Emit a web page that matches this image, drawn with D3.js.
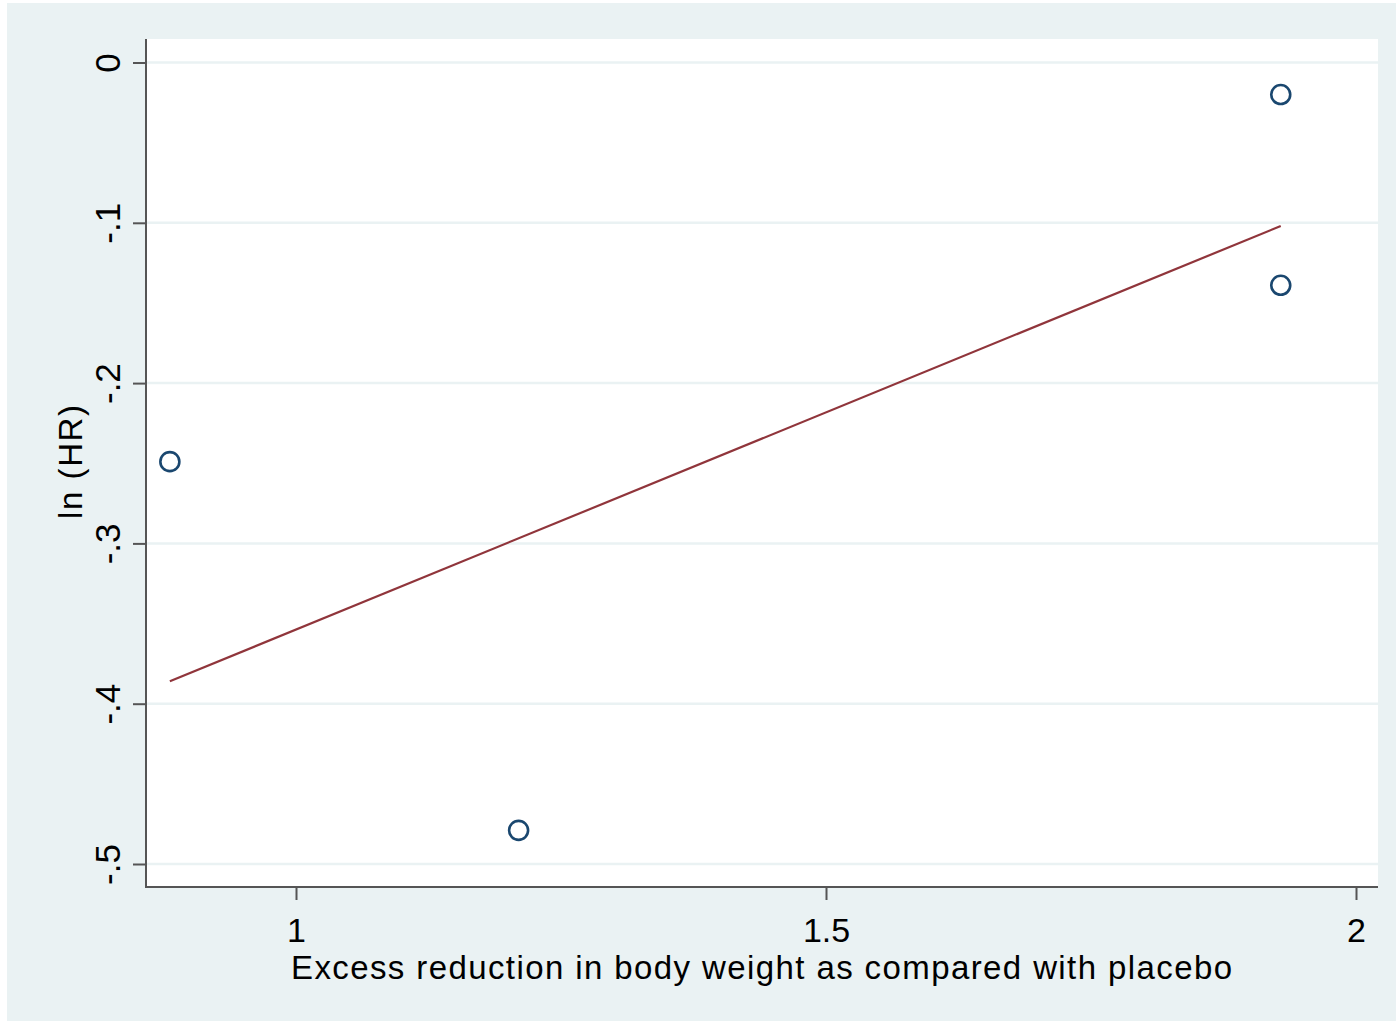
<!DOCTYPE html>
<html><head><meta charset="utf-8">
<script src="https://d3js.org/d3.v7.min.js"></script>
<style>html,body{margin:0;padding:0;background:#fff;}svg{display:block;}</style>
</head><body>
<script>
// Data
const studyX = [0.881, 1.210, 1.929, 1.929];
const studyY = [-0.249, -0.479, -0.020, -0.139];
const fitX = [0.881, 1.929];
const fitY = [-0.386, -0.102];
const yTicks = [0, -0.1, -0.2, -0.3, -0.4, -0.5];
const yTickLabels = ["0", "-.1", "-.2", "-.3", "-.4", "-.5"];
const xTicks = [1, 1.5, 2];
const xTickLabels = ["1", "1.5", "2"];

const W = 1396, H = 1023;
const svg = d3.select("body").append("svg").attr("width", W).attr("height", H);
const font = "Arial, 'Liberation Sans', sans-serif";

svg.append("rect").attr("x", 7).attr("y", 3).attr("width", W - 7).attr("height", 1018).attr("fill", "#eaf2f3");

const L = 147, R = 1378, T = 39, B = 887;
const x = d3.scaleLinear().domain([1, 2]).range([296, 1356]);
const y = d3.scaleLinear().domain([0, -0.5]).range([62.5, 864]);

svg.append("rect").attr("x", L).attr("y", T).attr("width", R - L).attr("height", B - T).attr("fill", "#fff");

// grid
svg.append("g").selectAll("line").data(yTicks).join("line")
  .attr("x1", L).attr("x2", R).attr("y1", d => y(d)).attr("y2", d => y(d))
  .attr("stroke", "#eaf2f3").attr("stroke-width", 2.5);

// Y axis
const yAxis = d3.axisLeft(y).tickValues(yTicks).tickSize(13)
  .tickFormat((d, i) => yTickLabels[i]);
const gy = svg.append("g").attr("transform", `translate(${L - 1},0)`).call(yAxis);
gy.select(".domain").attr("d", `M0,${T}V${B}`).attr("stroke", "#555").attr("stroke-width", 2);
gy.selectAll(".tick line").attr("stroke", "#555").attr("stroke-width", 2);
gy.selectAll(".tick text")
  .attr("transform", "rotate(-90)")
  .attr("x", 0).attr("y", -26).attr("dy", 0)
  .attr("text-anchor", "middle")
  .attr("font-family", font).attr("font-size", 35).attr("fill", "#000");

// X axis
const xAxis = d3.axisBottom(x).tickValues(xTicks).tickSize(13)
  .tickFormat((d, i) => xTickLabels[i]);
const gx = svg.append("g").attr("transform", `translate(0,${B})`).call(xAxis);
gx.select(".domain").attr("d", `M${L - 2},0H${R}`).attr("stroke", "#555").attr("stroke-width", 2);
gx.selectAll(".tick line").attr("stroke", "#555").attr("stroke-width", 2);
gx.selectAll(".tick text")
  .attr("y", 55).attr("dy", 0)
  .attr("font-family", font).attr("font-size", 34).attr("fill", "#000");

// axis titles
svg.append("text").attr("x", 761.5).attr("y", 979).attr("text-anchor", "middle")
  .attr("font-family", font).attr("font-size", 33).attr("fill", "#000")
  .attr("textLength", 941).attr("lengthAdjust", "spacing")
  .text("Excess reduction in body weight as compared with placebo");
svg.append("text").attr("transform", "translate(82,462) rotate(-90)").attr("text-anchor", "middle")
  .attr("font-family", font).attr("font-size", 33).attr("fill", "#000")
  .attr("textLength", 114).attr("lengthAdjust", "spacing")
  .text("ln (HR)");

// fit line
svg.append("line")
  .attr("x1", x(fitX[0])).attr("y1", y(fitY[0]))
  .attr("x2", x(fitX[1])).attr("y2", y(fitY[1]))
  .attr("stroke", "#90353b").attr("stroke-width", 2.2);

// points
svg.append("g").selectAll("circle").data(studyX.map((d, i) => [d, studyY[i]])).join("circle")
  .attr("cx", d => x(d[0])).attr("cy", d => y(d[1])).attr("r", 9.5)
  .attr("fill", "none").attr("stroke", "#1a476f").attr("stroke-width", 2.6);
</script>
</body></html>
